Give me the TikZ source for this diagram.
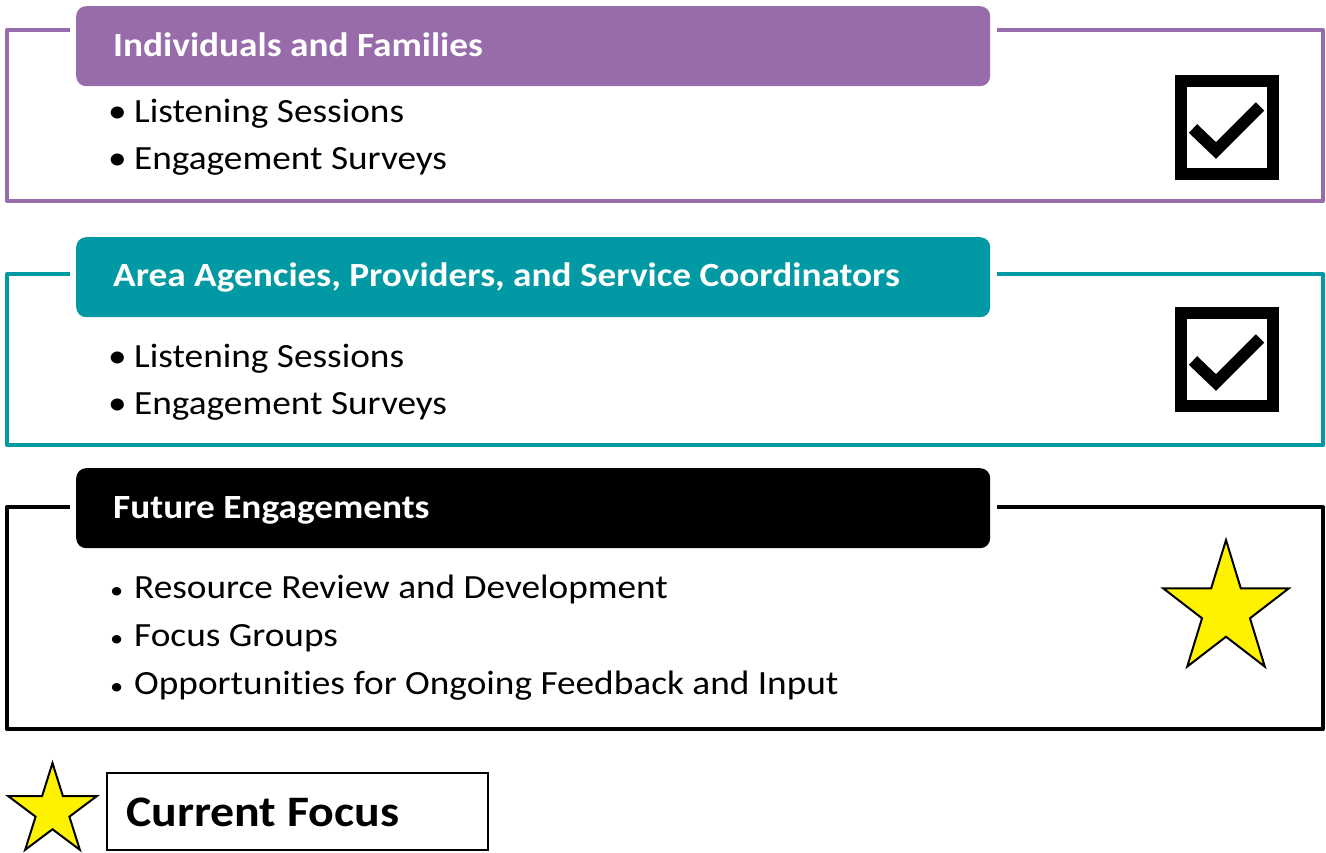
\documentclass[tikz,border=0pt]{standalone}
\usepackage{fontspec}
\setmainfont{Carlito}[Ligatures=NoCommon, FakeStretch=1.1]
\usetikzlibrary{shapes.geometric}
\definecolor{purp}{HTML}{986CAA}
\definecolor{teal2}{HTML}{0099A4}
\tikzset{
  outline/.style={line width=4pt, line join=round},
  header/.style={rounded corners=10pt, inner sep=0pt, anchor=north west, minimum width=914pt, minimum height=80pt},
  headtext/.style={anchor=base west, inner sep=0pt, text=white, font=\bfseries\fontsize{33.9}{40}\selectfont},
  item/.style={anchor=base west, inner sep=0pt, font=\fontsize{33.9}{40}\selectfont},
  bul/.style={anchor=base west, inner sep=0pt, font=\fontsize{33.9}{40}\selectfont},
  smallbul/.style={anchor=base west, inner sep=0pt, font=\fontsize{24}{28}\selectfont},
  chkbox/.style={draw=black, line width=12pt, minimum width=92pt, minimum height=93pt, inner sep=0pt},
  ystar/.style={star, star points=5, star point ratio=2.618, fill=yellow, draw=black, line width=2pt, inner sep=0pt},
}
\begin{document}
\begin{tikzpicture}[x=1pt,y=-1pt]
\useasboundingbox (0,0) rectangle (1326,853);
% ---- Box 1
\draw[purp, outline] (70,30) -| (7,201) -| (1323,30) -- (997,30);
\node[header, fill=purp] (h1) at (76,6) {};
\node[headtext] (h1t) at (113,57) {Individuals and Families};
\node[bul] (b11) at (108,123) {•};
\node[item] (i11) at (134,123) {Listening Sessions};
\node[bul] (b12) at (108,170) {•};
\node[item] (i12) at (134,170) {Engagement Surveys};
\node[chkbox] (c1) at (1227,127.5) {};
\draw[line width=12pt] ([shift={(-34,1)}]c1.center) -- ([shift={(-11,23)}]c1.center) -- ([shift={(33,-21)}]c1.center);
% ---- Box 2
\draw[teal2, outline] (70,274) -| (7,445) -| (1323,274) -- (997,274);
\node[header, fill=teal2] (h2) at (76,237) {};
\node[headtext] (h2t) at (113,287) {Area Agencies, Providers, and Service Coordinators};
\node[bul] (b21) at (108,367) {•};
\node[item] (i21) at (134,367) {Listening Sessions};
\node[bul] (b22) at (108,414) {•};
\node[item] (i22) at (134,414) {Engagement Surveys};
\node[chkbox] (c2) at (1227,359.5) {};
\draw[line width=12pt] ([shift={(-34,1)}]c2.center) -- ([shift={(-11,23)}]c2.center) -- ([shift={(33,-21)}]c2.center);
% ---- Box 3
\draw[black, outline] (70,507) -| (7,729) -| (1323,507) -- (997,507);
\node[header, fill=black] (h3) at (76,468) {};
\node[headtext] (h3t) at (113,518) {Future Engagements};
\node[smallbul] (b31) at (110,598) {•};
\node[item] (i31) at (134,598) {Resource Review and Development};
\node[smallbul] (b32) at (110,646) {•};
\node[item] (i32) at (134,646) {Focus Groups};
\node[smallbul] (b33) at (110,694) {•};
\node[item] (i33) at (134,694) {Opportunities for Ongoing Feedback and Input};
\node[ystar, minimum size=132pt, yscale=1.06, transform shape] (s1) at (1226,610) {};
% ---- Legend
\node[ystar, minimum size=93pt, yscale=1.03, transform shape] (s2) at (52.5,811) {};
\node[draw=black, line width=1.5pt, anchor=north west, minimum width=381pt, minimum height=77pt, inner sep=0pt] (lg) at (106,772) {};
\node[anchor=base west, inner sep=0pt, font=\bfseries\fontsize{43.5}{50}\selectfont] (lgt) at (126,826) {Current Focus};
\end{tikzpicture}
\end{document}
